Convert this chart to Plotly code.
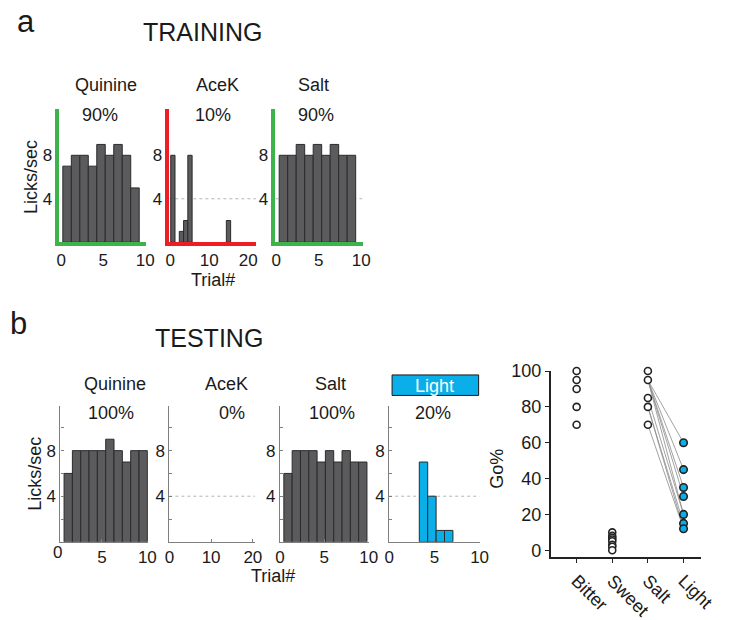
import plotly.graph_objects as go
import numpy as np

W, H = 729, 620

# ---------------- data ----------------
train_titles = ["Quinine", "AceK", "Salt"]
train_pct = ["90%", "10%", "90%"]
train_quinine = [7, 8, 8, 7, 9, 8, 9, 8, 5]
train_acek_trials = [1, 3, 4, 5, 14]
train_acek = [8, 1, 2, 8, 2]
train_salt = [8, 8, 9, 8, 9, 8, 9, 8, 8]

test_titles = ["Quinine", "AceK", "Salt", "Light"]
test_pct = ["100%", "0%", "100%", "20%"]
test_quinine = [6, 8, 8, 8, 8, 9, 8, 7, 8, 8]
test_acek_trials = []
test_acek = []
test_salt = [6, 8, 8, 8, 7, 8, 7, 8, 7, 7]
test_light_trials = [4, 5, 6, 7]
test_light = [7, 4, 1, 1]

go_cats = ["Bitter", "Sweet", "Salt", "Light"]
go_bitter = [100, 95, 90, 80, 70]
go_sweet = [10, 8, 7, 6, 5, 3, 2, 0]
go_salt = [100, 95, 85, 80, 70]
go_light = [60, 45, 35, 30, 20, 15, 12]
pair_salt = [95, 95, 95, 95, 95, 85, 80, 80, 70]
pair_light = [60, 45, 35, 30, 20, 20, 15, 12, 12]

# ---------------- style ----------------
FONT = "Arial, Liberation Sans, sans-serif"
GRAY_BAR = "#5b5b5d"
BAR_EDGE = "#2b2b2b"
BLUE = "#0aaee8"
GREEN = "#3cb44b"
RED = "#ee1c25"
AXGRAY = "#7f7f7f"


def px_x(a, b):
    return [a / W, b / W]


def px_y(top, bottom):
    return [1 - bottom / H, 1 - top / H]


fig = go.Figure()
layout = dict(
    width=W, height=H, margin=dict(l=0, r=0, t=0, b=0), autosize=False,
    paper_bgcolor="white", plot_bgcolor="rgba(0,0,0,0)", showlegend=False,
    font=dict(family=FONT, size=17, color="#1a1a1a"),
)
shapes, annotations = [], []

# panel specs: (values, trials, xpx, xrange, x0, w, ydomain, yrange, style, xticks, dotted)
panels = [
    (train_quinine, None, (56, 145), [-0.2, 10.1], 0.2, 1.01, (101, 238), [0, 12.3], "green", [0, 5, 10], False),
    (train_acek, train_acek_trials, (169, 258), [-0.25, 22], 0.1, 1.1, (101, 238), [0, 12.3], "red", [0, 10, 20], True),
    (train_salt, None, (278, 368), [-0.1, 10.2], 0.35, 1.0, (101, 238), [0, 12.3], "green", [0, 5, 10], True),
    (test_quinine, None, (57, 147), [0.43, 10.07], 0.83, 0.917, (406, 545), [0, 11.9], "gray", [0, 5, 10], False),
    (test_acek, test_acek_trials, (169, 257), [0, 20.5], 0.0, 1.0, (406, 545), [0, 11.9], "gray", [0, 10, 20], True),
    (test_salt, None, (282.7, 374), [0, 10], 0.44, 0.936, (406, 545), [0, 11.9], "gray", [0, 5, 10], False),
    (test_light, test_light_trials, (395, 488), [0, 10], 0.54, 0.93, (406, 545), [0, 11.9], "blue", [0, 5, 10], True),
]

for i, (vals, trials, xpx, xr, x0, w, ypx, yr, style, xt, dotted) in enumerate(panels):
    n = i + 1
    xa = "x" if n == 1 else f"x{n}"
    ya = "y" if n == 1 else f"y{n}"
    if trials is None:
        trials = list(range(1, len(vals) + 1))
    centers = [x0 + w * (t - 0.5) for t in trials]
    if len(vals):
        fig.add_trace(go.Bar(
            x=centers, y=vals, width=w, xaxis=xa, yaxis=ya,
            marker=dict(color=BLUE if style == "blue" else GRAY_BAR,
                        line=dict(color=BAR_EDGE, width=1)),
            hoverinfo="skip",
        ))
    top = style in ("green", "red")
    lc = {"green": GREEN, "red": RED}.get(style, AXGRAY)
    lw = 3.5 if top else 1.2
    xkey = "xaxis" if n == 1 else f"xaxis{n}"
    ykey = "yaxis" if n == 1 else f"yaxis{n}"
    layout[xkey] = dict(
        domain=px_x(*xpx), range=xr, anchor=ya, showgrid=False, zeroline=False,
        showline=True, linecolor=lc, linewidth=lw,
        tickmode="array", tickvals=xt, ticks="" if top else "inside",
        ticklen=0 if top else 3, tickcolor=AXGRAY, tickfont=dict(size=17),
    )
    if top:
        ytv, ytt = [4, 8], ["4", "8"]
    else:
        ytv, ytt = [2, 4, 6, 8, 10], ["", "4", "", "8", ""]
    layout[ykey] = dict(
        domain=px_y(*ypx), range=yr, anchor=xa, showgrid=False, zeroline=False,
        showline=True, linecolor=lc, linewidth=lw,
        tickmode="array", tickvals=ytv, ticktext=ytt,
        ticks="" if top else "inside", ticklen=0 if top else 3, tickcolor=AXGRAY,
        tickfont=dict(size=17),
    )
    if dotted:
        shapes.append(dict(type="line", xref=xa, yref=ya, x0=xr[0], x1=xr[1], y0=4, y1=4,
                           line=dict(color="#b5b5b5", width=1, dash="dot"), layer="below"))

# ---------------- scatter panel ----------------
sx, sy = "x8", "y8"
fig.add_trace(go.Scatter(
    x=sum([[3, 4, None] for _ in pair_salt], []),
    y=sum([[a, b, None] for a, b in zip(pair_salt, pair_light)], []),
    mode="lines", line=dict(color="#8a8a8a", width=0.8), xaxis=sx, yaxis=sy,
    hoverinfo="skip", cliponaxis=False,
))
for k, vals in enumerate([go_bitter, go_sweet, go_salt]):
    fig.add_trace(go.Scatter(
        x=[k + 1] * len(vals), y=vals, mode="markers", xaxis=sx, yaxis=sy,
        marker=dict(size=7, color="white", line=dict(color="#222", width=1.6)),
        cliponaxis=False, hoverinfo="skip",
    ))
fig.add_trace(go.Scatter(
    x=[4] * len(go_light), y=go_light, mode="markers", xaxis=sx, yaxis=sy,
    marker=dict(size=7.5, color=BLUE, line=dict(color="#222", width=1.6)),
    cliponaxis=False, hoverinfo="skip",
))
layout["xaxis8"] = dict(
    domain=px_x(561, 716), range=[0.27, 4.5], anchor=sy, showgrid=False, zeroline=False,
    showline=True, linecolor="#222", linewidth=1.5, ticks="outside", ticklen=4,
    tickcolor="#222", tickmode="array", tickvals=[1, 2, 3, 4], ticktext=go_cats,
    tickangle=45, tickfont=dict(size=18),
)
layout["yaxis8"] = dict(
    domain=px_y(370, 561), range=[-4, 100], anchor=sx, showgrid=False, zeroline=False,
    showline=True, linecolor="#222", linewidth=1.5, ticks="outside", ticklen=4,
    tickcolor="#222", tickmode="array", tickvals=[0, 20, 40, 60, 80, 100],
    tickfont=dict(size=18),
)

# ---------------- text ----------------
def txt(x, y, s, size=18, color="#1a1a1a", angle=0):
    annotations.append(dict(x=x / W, y=1 - y / H, xref="paper", yref="paper", text=s,
                            showarrow=False, xanchor="center", yanchor="middle",
                            textangle=angle, font=dict(size=size, color=color, family=FONT)))

# "0" tick label of the testing quinine panel (its axis starts right of 0)
txt(53.5, 556, "0", 17)

txt(22, 12, "a", 31)
txt(203, 23, "TRAINING", 25)
txt(14, 321, "b", 31)
txt(210, 336, "TESTING", 25)

for s, xc in zip(train_titles, [104, 218, 317]):
    txt(xc, 77, s)
for s, xc in zip(train_pct, [98, 214, 320]):
    txt(xc, 108, s)
for s, xc in zip(test_titles[:3], [113, 228, 335]):
    txt(xc, 383, s)
for s, xc in zip(test_pct, [109, 233, 336, 440]):
    txt(xc, 413, s)

# Light box
shapes.append(dict(type="rect", xref="paper", yref="paper", x0=398 / W, x1=487 / W,
                   y0=1 - 395 / H, y1=1 - 374 / H, fillcolor=BLUE,
                   line=dict(color="#1a1a1a", width=1)))
txt(442, 385, test_titles[3], 18, "white")

txt(27, 171, "Licks/sec", 18, angle=-90)
txt(30, 475, "Licks/sec", 18, angle=-90)
txt(214, 277, "Trial#", 18)
txt(276, 580, "Trial#", 18)
txt(506, 470, "Go%", 18, angle=-90)

layout["shapes"] = shapes
layout["annotations"] = annotations
fig.update_layout(**layout)
fig.write_html(
    "out.html",
    config={"displayModeBar": False},
    post_script="document.body.style.margin='0';document.body.style.padding='0';"
                "document.body.style.overflow='hidden';",
)
